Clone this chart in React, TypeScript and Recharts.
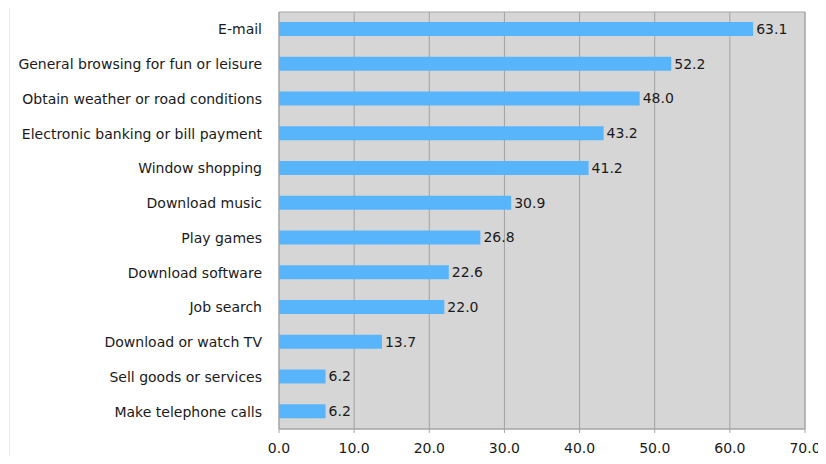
import React from "react";
import { BarChart, Bar, XAxis, YAxis, CartesianGrid, LabelList, ReferenceArea } from "recharts";

const categories = [
  "E-mail",
  "General browsing for fun or leisure",
  "Obtain weather or road conditions",
  "Electronic banking or bill payment",
  "Window shopping",
  "Download music",
  "Play games",
  "Download software",
  "Job search",
  "Download or watch TV",
  "Sell goods or services",
  "Make telephone calls",
];
const values = [63.1, 52.2, 48.0, 43.2, 41.2, 30.9, 26.8, 22.6, 22.0, 13.7, 6.2, 6.2];
const xTicks = [0, 10, 20, 30, 40, 50, 60, 70];

const data = categories.map((name, i) => ({ name, value: values[i] }));

const FONT = "'DejaVu Sans', Verdana, sans-serif";

export default function App() {
  return (
    <div style={{ position: "relative", width: 826, height: 464, margin: -8, background: "#fff" }}>
      <div style={{ position: "absolute", left: 9, top: 5, width: 817, height: 459, borderLeft: "1px solid #e8e8e8", borderTop: "1px solid #e8e8e8" }} />
      <div style={{ position: "absolute", left: 0, top: 0 }}>
        <BarChart
          width={826}
          height={464}
          data={data}
          layout="vertical"
          margin={{ top: 12, right: 21, bottom: 0, left: 0 }}
          barCategoryGap="30%"
        >
          <CartesianGrid horizontal={false} fill="#d6d6d6" stroke="#a2a2a2" fillOpacity={1} />
          <XAxis
            type="number"
            domain={[0, 70]}
            ticks={xTicks}
            interval={0}
            tickFormatter={(v: number) => v.toFixed(1)}
            height={35}
            tickSize={4}
            tickMargin={10}
            axisLine={{ stroke: "#a5a5a5" }}
            tickLine={{ stroke: "#a5a5a5" }}
            tick={{ fill: "#1a1a1a", fontSize: 14, fontFamily: FONT }}
          />
          <YAxis
            type="category"
            dataKey="name"
            width={279}
            axisLine={false}
            tickLine={false}
            tickSize={6}
            tickMargin={11}
            interval={0}
            tick={{ fill: "#1a1a1a", fontSize: 14, fontFamily: FONT }}
          />
          <ReferenceArea x1={0} x2={70} fill="none" stroke="#a5a5a5" ifOverflow="visible" />
          <Bar dataKey="value" fill="#58b5fc" barSize={14} isAnimationActive={false}>
            <LabelList
              dataKey="value"
              position="right"
              offset={3}
              formatter={(v: number) => v.toFixed(1)}
              style={{ fill: "#1a1a1a", fontSize: 14, fontFamily: FONT }}
            />
          </Bar>
        </BarChart>
      </div>
    </div>
  );
}
